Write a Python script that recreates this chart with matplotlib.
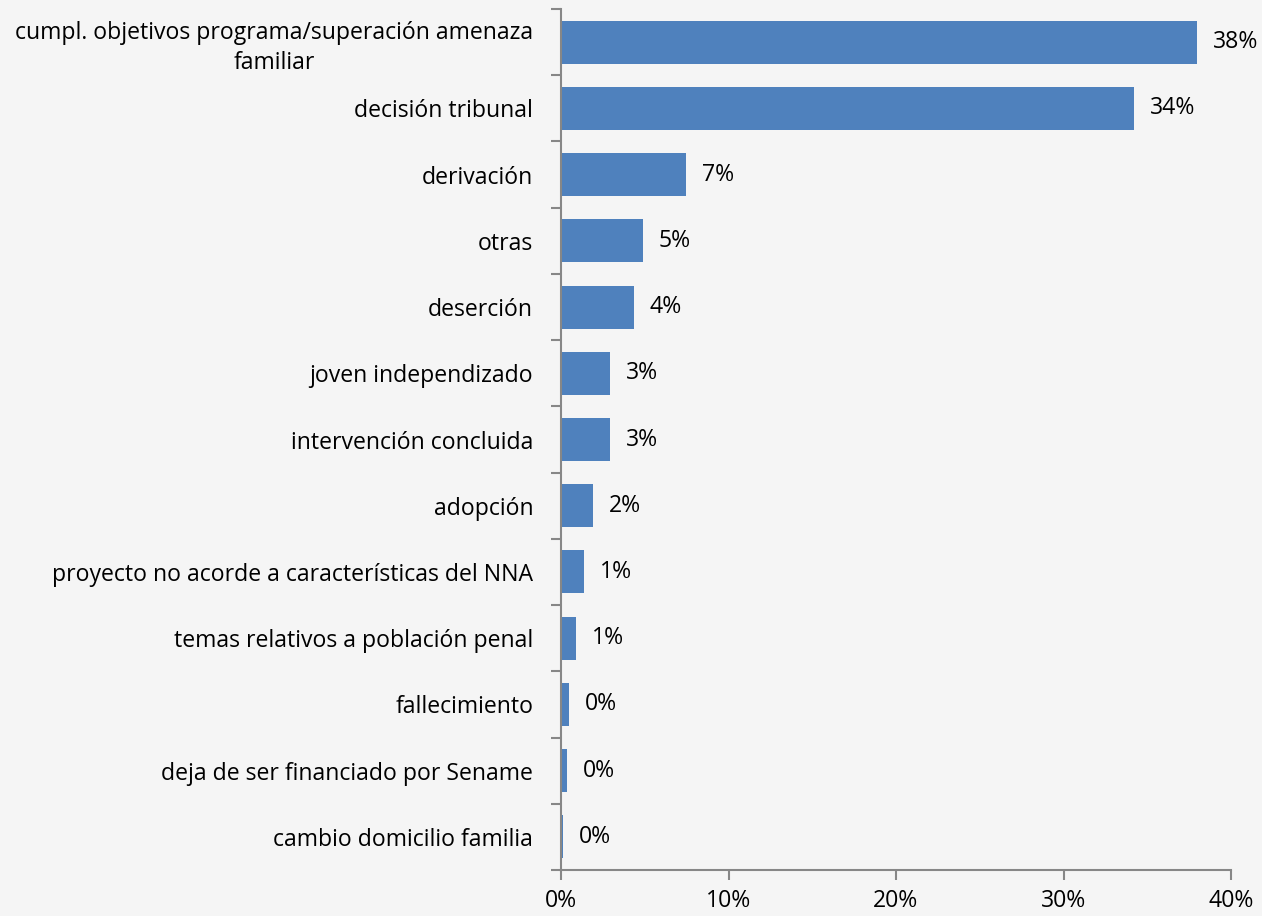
import matplotlib
matplotlib.use("Agg")
import matplotlib.pyplot as plt
from matplotlib.ticker import FuncFormatter, MultipleLocator

categories = [
    "cumpl. objetivos programa/superación amenaza\nfamiliar",
    "decisión tribunal",
    "derivación",
    "otras",
    "deserción",
    "joven independizado",
    "intervención concluida",
    "adopción",
    "proyecto no acorde a características del NNA",
    "temas relativos a población penal",
    "fallecimiento",
    "deja de ser financiado por Sename",
    "cambio domicilio familia",
]
values = [37.97, 34.2, 7.46, 4.9, 4.36, 2.93, 2.93, 1.91, 1.36, 0.91, 0.48, 0.36, 0.14]

bg = "#f5f5f5"
bar_color = "#4f81bd"
spine_color = "#878787"
font = ["Open Sans", "DejaVu Sans"]
fs = 16.6

plt.rcParams["font.family"] = font
fig = plt.figure(figsize=(12.62, 9.16), dpi=100, facecolor=bg)
ax = fig.add_axes([561/1262, 1-870/916, (1231-561)/1262, (870-9)/916])
ax.set_facecolor(bg)

n = len(categories)
ypos = list(range(n))
ax.barh(ypos, values, height=0.65, color=bar_color, edgecolor="none")
ax.set_ylim(n - 0.5, -0.5)
ax.set_xlim(0, 40)

for y, v in zip(ypos, values):
    ax.text(v + 0.95, y, f"{v:.0f}%", va="center", ha="left", fontsize=fs, color="black")

ax.set_yticks(ypos)
ax.set_yticklabels(categories, fontsize=fs, linespacing=1.35)
for lbl in ax.get_yticklabels():
    lbl.set_multialignment("center")
ax.tick_params(axis="y", which="major", length=0, pad=20)
ax.set_yticks([i - 0.5 for i in range(n + 1)], minor=True)
ax.tick_params(axis="y", which="minor", length=7, width=1.5, color=spine_color)

ax.xaxis.set_major_locator(MultipleLocator(10))
ax.xaxis.set_major_formatter(FuncFormatter(lambda x, p: f"{x:.0f}%"))
ax.tick_params(axis="x", length=7, width=1.5, color=spine_color, labelsize=fs, pad=7)

for s in ["top", "right"]:
    ax.spines[s].set_visible(False)
for s in ["left", "bottom"]:
    ax.spines[s].set_color(spine_color)
    ax.spines[s].set_linewidth(1.5)

fig.savefig("out.png", dpi=100, facecolor=bg)
